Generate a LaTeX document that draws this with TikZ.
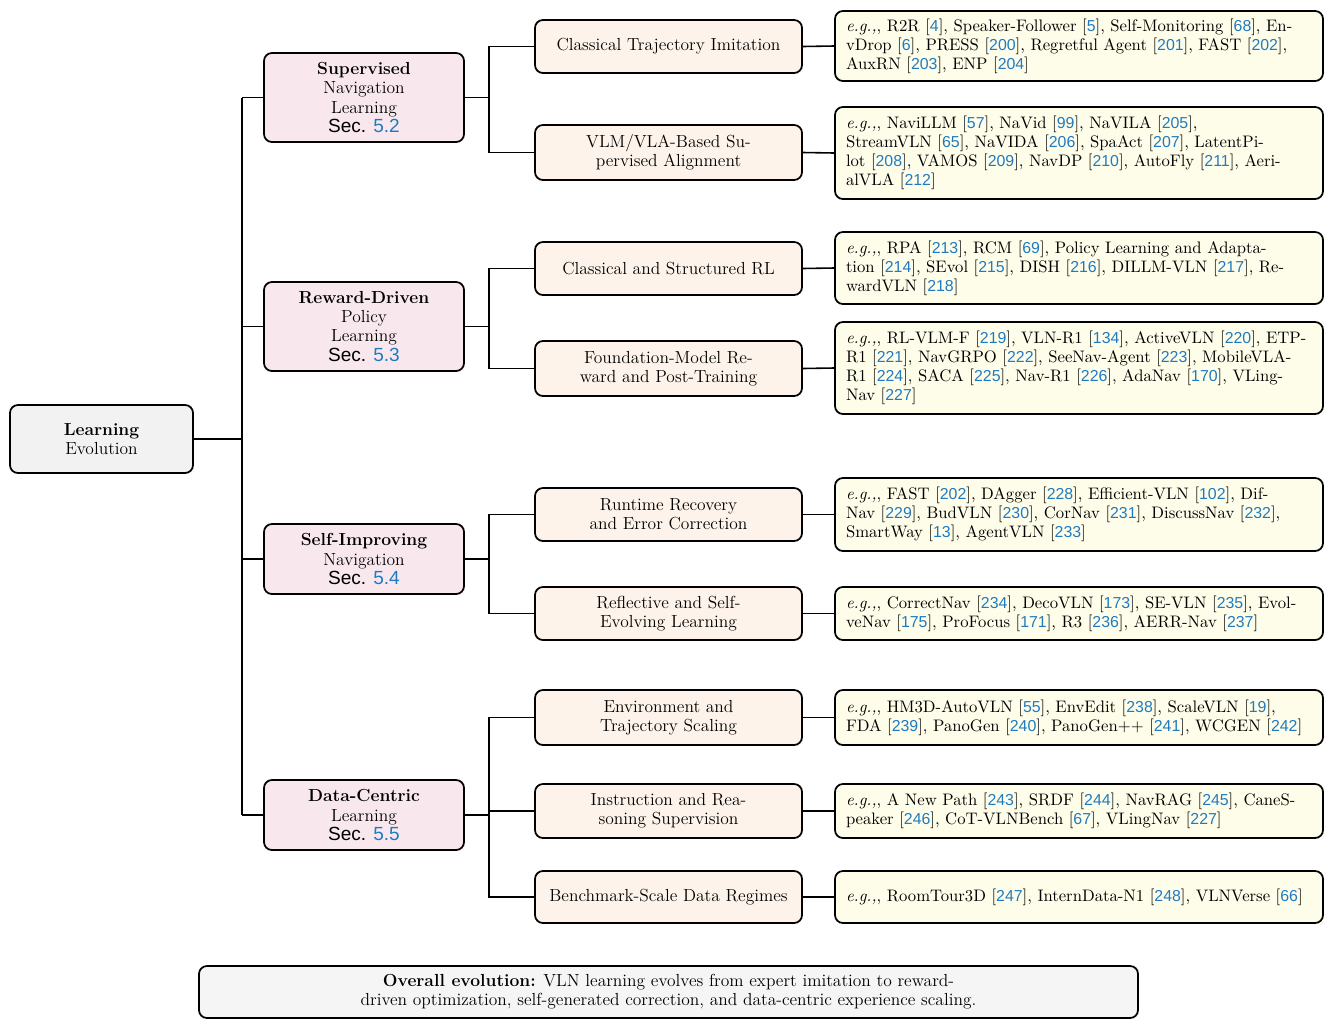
\documentclass[tikz,border=0pt]{standalone}
\usepackage{fontspec}
\setsansfont{Liberation Sans}
\usetikzlibrary{positioning}
\definecolor{citeblue}{HTML}{1F7BC1}
\definecolor{rootfill}{HTML}{F2F2F2}
\definecolor{lonefill}{HTML}{F8E8EE}
\definecolor{ltwofill}{HTML}{FDF3EA}
\definecolor{lthreefill}{HTML}{FEFDE9}
\definecolor{botfill}{HTML}{F5F5F5}
\newcommand\cn[1]{{\sffamily\fontsize{10}{12}\selectfont\color{citeblue}#1}}
\newcommand\eg{\textit{e.g.,},}
\newcommand\secref[1]{{\sffamily\fontsize{12}{12}\selectfont Sec. {\color{citeblue}#1}}}
\def\u{0.63pt}
\begin{document}
\begin{tikzpicture}[x=0.63pt,y=-0.63pt,
  every node/.style={font=\fontsize{11}{12}\selectfont},
  boxbase/.style={draw=black, line width=1.1pt, rounded corners=5pt, inner sep=0pt},
  rootbox/.style={boxbase, fill=rootfill, minimum width=183*\u, minimum height=68*\u, align=center},
  lonebox/.style={boxbase, fill=lonefill, minimum width=200*\u, align=center},
  ltwobox/.style={boxbase, fill=ltwofill, minimum width=267*\u, align=center},
  lthreebox/.style={boxbase, fill=lthreefill, minimum width=488*\u, text width=466*\u, align=left, font=\fontsize{10.5}{12}\selectfont},
  botbox/.style={boxbase, fill=botfill, minimum width=939*\u, minimum height=52*\u, align=center},
  conn/.style={line width=1pt, draw=black}
]
\useasboundingbox (0,0) rectangle (1333,1027);

% root
\node[rootbox] (root) at (101.5,439) {\textbf{Learning}\\Evolution};

% level 1
\node[lonebox, minimum height=89*\u] (sup) at (364,97.5) {\textbf{Supervised}\\Navigation\\Learning\\\secref{5.2}};
\node[lonebox, minimum height=89*\u] (rew) at (364,326.5) {\textbf{Reward-Driven}\\Policy\\Learning\\\secref{5.3}};
\node[lonebox, minimum height=70*\u] (self) at (364,559) {\textbf{Self-Improving}\\Navigation\\\secref{5.4}};
\node[lonebox, minimum height=70*\u] (data) at (364,815) {\textbf{Data-Centric}\\Learning\\\secref{5.5}};

% level 2
\node[ltwobox, minimum height=53*\u] (a1) at (668.5,46.5) {Classical Trajectory Imitation};
\node[ltwobox, minimum height=55*\u] (a2) at (668.5,152.5) {VLM/VLA-Based Su-\\pervised Alignment};
\node[ltwobox, minimum height=53*\u] (b1) at (668.5,268.5) {Classical and Structured RL};
\node[ltwobox, minimum height=55*\u] (b2) at (668.5,368.5) {Foundation-Model Re-\\ward and Post-Training};
\node[ltwobox, minimum height=53*\u] (c1) at (668.5,514.5) {Runtime Recovery\\and Error Correction};
\node[ltwobox, minimum height=53*\u] (c2) at (668.5,613.5) {Reflective and Self-\\Evolving Learning};
\node[ltwobox, minimum height=55*\u] (d1) at (668.5,717.5) {Environment and\\Trajectory Scaling};
\node[ltwobox, minimum height=54*\u] (d2) at (668.5,811) {Instruction and Rea-\\soning Supervision};
\node[ltwobox, minimum height=52*\u] (d3) at (668.5,897) {Benchmark-Scale Data Regimes};

% level 3
\node[lthreebox, minimum height=70*\u] (ea1) at (1079,46) {\eg{} R2R [\cn{4}], Speaker-Follower [\cn{5}], Self-Monitoring [\cn{68}], En-\\vDrop [\cn{6}], PRESS [\cn{200}], Regretful Agent [\cn{201}], FAST [\cn{202}],\\AuxRN [\cn{203}], ENP [\cn{204}]};
\node[lthreebox, minimum height=92*\u] (ea2) at (1079,153) {\eg{} NaviLLM [\cn{57}], NaVid [\cn{99}], NaVILA [\cn{205}],\\StreamVLN [\cn{65}], NaVIDA [\cn{206}], SpaAct [\cn{207}], LatentPi-\\lot [\cn{208}], VAMOS [\cn{209}], NavDP [\cn{210}], AutoFly [\cn{211}], Aeri-\\alVLA [\cn{212}]};
\node[lthreebox, minimum height=72*\u] (eb1) at (1079,268) {\eg{} RPA [\cn{213}], RCM [\cn{69}], Policy Learning and Adapta-\\tion [\cn{214}], SEvol [\cn{215}], DISH [\cn{216}], DILLM-VLN [\cn{217}], Re-\\wardVLN [\cn{218}]};
\node[lthreebox, minimum height=92*\u] (eb2) at (1079,368) {\eg{} RL-VLM-F [\cn{219}], VLN-R1 [\cn{134}], ActiveVLN [\cn{220}], ETP-\\R1 [\cn{221}], NavGRPO [\cn{222}], SeeNav-Agent [\cn{223}], MobileVLA-\\R1 [\cn{224}], SACA [\cn{225}], Nav-R1 [\cn{226}], AdaNav [\cn{170}], VLing-\\Nav [\cn{227}]};
\node[lthreebox, minimum height=73*\u] (ec1) at (1079,514.5) {\eg{} FAST [\cn{202}], DAgger [\cn{228}], Efficient-VLN [\cn{102}], Dif-\\Nav [\cn{229}], BudVLN [\cn{230}], CorNav [\cn{231}], DiscussNav [\cn{232}],\\SmartWay [\cn{13}], AgentVLN [\cn{233}]};
\node[lthreebox, minimum height=53*\u] (ec2) at (1079,613.5) {\eg{} CorrectNav [\cn{234}], DecoVLN [\cn{173}], SE-VLN [\cn{235}], Evol-\\veNav [\cn{175}], ProFocus [\cn{171}], R3 [\cn{236}], AERR-Nav [\cn{237}]};
\node[lthreebox, minimum height=55*\u] (ed1) at (1079,717.5) {\eg{} HM3D-AutoVLN [\cn{55}], EnvEdit [\cn{238}], ScaleVLN [\cn{19}],\\FDA [\cn{239}], PanoGen [\cn{240}], PanoGen++ [\cn{241}], WCGEN [\cn{242}]};
\node[lthreebox, minimum height=54*\u] (ed2) at (1079,811) {\eg{} A New Path [\cn{243}], SRDF [\cn{244}], NavRAG [\cn{245}], CaneS-\\peaker [\cn{246}], CoT-VLNBench [\cn{67}], VLingNav [\cn{227}]};
\node[lthreebox, minimum height=52*\u] (ed3) at (1079,897) {\eg{} RoomTour3D [\cn{247}], InternData-N1 [\cn{248}], VLNVerse [\cn{66}]};

% bottom
\node[botbox] (bot) at (668.5,992) {\textbf{Overall evolution:} VLN learning evolves from expert imitation to reward-\\driven optimization, self-generated correction, and data-centric experience scaling.};

% trunk
\coordinate (ttop) at (242,97.5);
\coordinate (tbot) at (242,815);
\draw[conn] (ttop) -- (tbot);
\draw[conn] (root.east) -- (root.east -| ttop);
\draw[conn] (ttop) -- (sup.west);
\draw[conn] (rew.west -| ttop) -- (rew.west);
\draw[conn] (self.west -| ttop) -- (self.west);
\draw[conn] (tbot) -- (data.west);

% forks
\coordinate (fa) at (489,97.5);
\coordinate (fb) at (489,326.5);
\coordinate (fc) at (489,559);
\coordinate (fd) at (489,815);
\draw[conn] (sup.east) -- (fa);
\draw[conn] (a1.west) -| (fa) |- (a2.west);
\draw[conn] (rew.east) -- (fb);
\draw[conn] (b1.west) -| (fb) |- (b2.west);
\draw[conn] (self.east) -- (fc);
\draw[conn] (c1.west) -| (fc) |- (c2.west);
\draw[conn] (data.east) -- (fd);
\draw[conn] (d1.west) -| (fd) |- (d3.west);
\draw[conn] (fd |- d2.west) -- (d2.west);

% leaves
\draw[conn] (a1.east) -- (ea1.west);
\draw[conn] (a2.east) -- (ea2.west);
\draw[conn] (b1.east) -- (eb1.west);
\draw[conn] (b2.east) -- (eb2.west);
\draw[conn] (c1.east) -- (ec1.west);
\draw[conn] (c2.east) -- (ec2.west);
\draw[conn] (d1.east) -- (ed1.west);
\draw[conn] (d2.east) -- (ed2.west);
\draw[conn] (d3.east) -- (ed3.west);
\end{tikzpicture}
\end{document}
